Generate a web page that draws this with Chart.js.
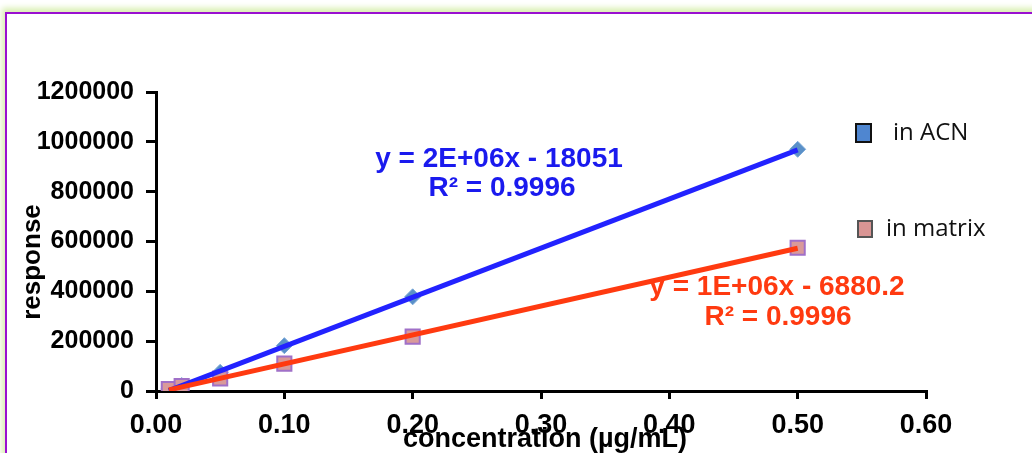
<!DOCTYPE html>
<html>
<head>
<meta charset="utf-8">
<script src="https://cdn.jsdelivr.net/npm/chart.js@4"></script>
<style>
  html, body { margin: 0; padding: 0; background: #fff; overflow: hidden; }
  #wrap { position: relative; width: 1032px; height: 453px; }
  #frame {
    position: absolute; left: 5px; top: 12px; width: 1100px; height: 500px;
    border: 2px solid #9a10d0; box-sizing: border-box; pointer-events: none;
    box-shadow: -3px -4px 6px #d8efb0;
  }
  canvas { position: absolute; left: 0; top: 0; }
</style>
</head>
<body>
<div id="wrap">
  <canvas id="myChart" width="1032" height="453"></canvas>
  <div id="frame"></div>
</div>
<script>
// measured points
const concentrations = [0.01, 0.02, 0.05, 0.10, 0.20, 0.50];
const acnResponse = [8000, 22000, 75000, 182000, 378000, 970000];
const matrixResponse = [8000, 20000, 50000, 110000, 218000, 575000];

// trendline ends as drawn by the spreadsheet
const trendX = [0.01, 0.50];
const acnTrend = [1500, 968000];
const matrixTrend = [4700, 573000];

const xTicksMax = 0.6;
const yTicksMax = 1200000;

const legendItems = ["in ACN", "in matrix"];

function pairs(xs, ys) {
  return xs.map((x, i) => ({ x: x, y: ys[i] }));
}

const extras = {
  id: "extras",
  afterDraw(chart) {
    const ctx = chart.ctx;
    ctx.save();

    // equations
    ctx.textAlign = "center";
    ctx.textBaseline = "middle";
    ctx.font = "bold 28px 'Liberation Sans', Arial, sans-serif";
    ctx.fillStyle = "#1a1aee";
    ctx.fillText("y = 2E+06x - 18051", 499, 159);
    ctx.fillText("R² = 0.9996", 502, 188);
    ctx.fillStyle = "#ff3a10";
    ctx.fillText("y = 1E+06x - 6880.2", 777, 287);
    ctx.fillText("R² = 0.9996", 778, 317);

    // axis titles
    ctx.fillStyle = "#000";
    ctx.font = "bold 27px 'Liberation Sans', Arial, sans-serif";
    ctx.fillText("concentration (µg/mL)", 545, 440);
    ctx.save();
    ctx.translate(33, 262);
    ctx.rotate(-Math.PI / 2);
    ctx.font = "bold 26px 'Liberation Sans', Arial, sans-serif";
    ctx.fillText("response", 0, 0);
    ctx.restore();

    // legend
    ctx.textAlign = "left";
    ctx.font = "24px 'Open Sans', 'Liberation Sans', sans-serif";
    ctx.lineWidth = 2;
    ctx.fillStyle = "#4f86d0";
    ctx.fillRect(856, 124, 15, 18);
    ctx.strokeStyle = "#111";
    ctx.strokeRect(856, 124, 15, 18);
    ctx.fillStyle = "#111";
    ctx.fillText(legendItems[0], 893, 133);

    ctx.fillStyle = "#d99594";
    ctx.fillRect(858, 221, 14, 16);
    ctx.strokeStyle = "#555";
    ctx.strokeRect(858, 221, 14, 16);
    ctx.fillStyle = "#111";
    ctx.fillText(legendItems[1], 886, 229);
    ctx.restore();
  }
};

const fontFamily = "'Liberation Sans', Arial, sans-serif";

new Chart(document.getElementById("myChart"), {
  type: "scatter",
  data: {
    datasets: [
      {
        label: "matrix trend",
        data: pairs(trendX, matrixTrend),
        showLine: true,
        borderColor: "#ff3a10",
        borderWidth: 5,
        pointRadius: 0,
      },
      {
        label: "ACN trend",
        data: pairs(trendX, acnTrend),
        showLine: true,
        borderColor: "#2222ff",
        borderWidth: 5,
        pointRadius: 0,
      },
      {
        label: legendItems[1],
        data: pairs(concentrations, matrixResponse),
        pointStyle: "rect",
        pointRadius: 10,
        backgroundColor: "#d99a9a",
        borderColor: "#a070c8",
        borderWidth: 2,
      },
      {
        label: legendItems[0],
        data: pairs(concentrations, acnResponse),
        pointStyle: "rectRot",
        pointRadius: 8,
        backgroundColor: "#5a90c8",
        borderColor: "#7aa8d8",
        borderWidth: 1,
      },
    ],
  },
  options: {
    responsive: false,
    animation: false,
    layout: { padding: { top: 92, right: 106, left: 0, bottom: 0 } },
    plugins: { legend: { display: false }, tooltip: { enabled: false } },
    scales: {
      x: {
        type: "linear",
        min: 0,
        max: xTicksMax,
        afterFit(scale) { scale.height = 62; },
        ticks: {
          stepSize: 0.1,
          color: "#000",
          font: { family: fontFamily, size: 27, weight: "bold" },
          padding: 10,
          maxRotation: 0,
          callback: (v) => v.toFixed(2),
        },
        grid: { display: true, drawOnChartArea: false, drawTicks: true, tickLength: 8, color: "#000", lineWidth: 3 },
        border: { display: true, color: "#000", width: 3 },
      },
      y: {
        min: 0,
        max: yTicksMax,
        afterFit(scale) { scale.width = 156; },
        ticks: {
          stepSize: 200000,
          color: "#000",
          font: { family: fontFamily, size: 25, weight: "bold" },
          padding: 12,
          callback: (v) => String(v),
        },
        grid: { display: true, drawOnChartArea: false, drawTicks: true, tickLength: 10, color: "#000", lineWidth: 3 },
        border: { display: true, color: "#000", width: 3 },
      },
    },
  },
  plugins: [extras],
});
</script>
</body>
</html>
